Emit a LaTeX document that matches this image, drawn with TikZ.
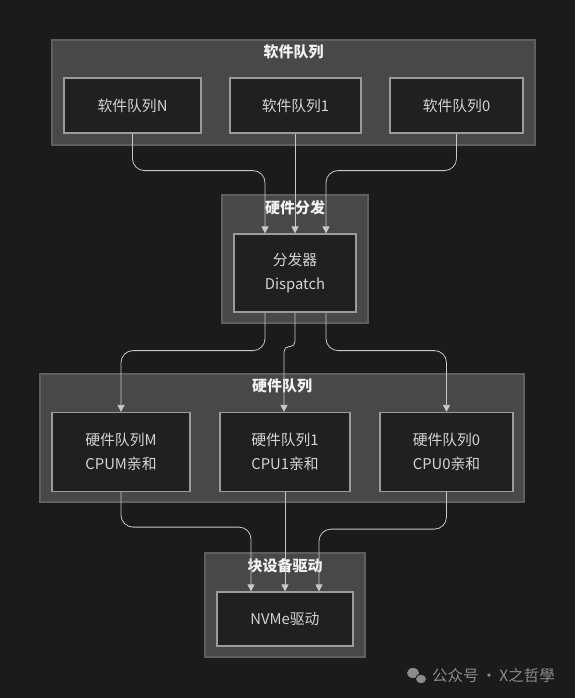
\documentclass[tikz,border=0pt]{standalone}
\usepackage{fontspec}
\setmainfont{Noto Sans CJK SC}
\usepackage{tikz}
\usetikzlibrary{arrows.meta,positioning}
\definecolor{bgc}{HTML}{1B1B1B}
\definecolor{grpfill}{HTML}{474948}
\definecolor{grpline}{HTML}{5E605F}
\definecolor{boxfill}{HTML}{1F2120}
\definecolor{boxline}{HTML}{9A9C9B}
\definecolor{txtc}{HTML}{D4D4D4}
\definecolor{ttlc}{HTML}{F2F2F2}
\definecolor{edgec}{HTML}{C8C8C8}
\definecolor{wmc}{HTML}{8C8C8C}
\tikzset{
  grp/.style={draw=grpline,line width=1.2pt,fill=grpfill,inner sep=0pt},
  qbox/.style={draw=boxline,line width=1.2pt,fill=boxfill,align=center,inner sep=0pt,
    text=txtc,font=\fontsize{14.8}{24}\selectfont},
  ttl/.style={text=ttlc,font=\fontsize{15}{16}\selectfont\bfseries,inner sep=0pt},
  ar/.style={-{Triangle[length=7pt,width=7pt]},edgec,line width=0.8pt,rounded corners=12pt}
}

\begin{document}
\begin{tikzpicture}[x=1pt,y=-1pt]
\fill[bgc] (0,0) rectangle (575,698);
\useasboundingbox (0,0) rectangle (575,698);
% clusters
\node[grp,minimum width=483,minimum height=105] (gsw) at (293.5,92.5) {};
\node[grp,minimum width=146,minimum height=128] (gdp) at (295,259) {};
\node[grp,minimum width=484,minimum height=128] (ghq) at (282,438) {};
\node[grp,minimum width=160,minimum height=104] (gbd) at (285,605) {};
\node[ttl] (tsw) at (293.5,52) {软件队列};
\node[ttl] (tdp) at (295,208) {硬件分发};
\node[ttl] (thq) at (282,386) {硬件队列};
\node[ttl] (tbd) at (285,566) {块设备驱动};
% software queues
\node[qbox,minimum width=137,minimum height=55] (swN) at (132.5,105.5) {软件队列N};
\node[qbox,minimum width=131,minimum height=55] (sw1) at (295.5,105.5) {软件队列1};
\node[qbox,minimum width=133,minimum height=55] (sw0) at (456.5,105.5) {软件队列0};
% dispatcher
\node[qbox,minimum width=122,minimum height=78] (disp) at (295,273) {分发器\\Dispatch};
% hardware queues
\node[qbox,minimum width=138,minimum height=79] (hqM) at (121,452) {硬件队列M\\CPUM亲和};
\node[qbox,minimum width=130,minimum height=79] (hq1) at (285,452) {硬件队列1\\CPU1亲和};
\node[qbox,minimum width=133,minimum height=79] (hq0) at (446.5,452) {硬件队列0\\CPU0亲和};
% driver
\node[qbox,minimum width=136,minimum height=54] (nvme) at (285,619) {NVMe驱动};
% edges
\draw[ar] (swN.south) -- ++(0,37) -| ([xshift=-30]disp.north);
\draw[ar] (sw1.south -| disp.north) -- (disp.north);
\draw[ar] (sw0.south) -- ++(0,37) -| ([xshift=31]disp.north);
\draw[ar] ([xshift=-30]disp.south) -- ++(0,38) -| (hqM.north);
\draw[ar,rounded corners=5pt] (disp.south) -- ++(0,34) -| ([xshift=-1]hq1.north);
\draw[ar] ([xshift=31]disp.south) -- ++(0,38) -| (hq0.north);
\draw[ar] (hqM.south) -- ++(0,35) -| ([xshift=-34]nvme.north);
\draw[ar] (hq1.south) -- (nvme.north);
\draw[ar] (hq0.south) -- ++(0,37) -| ([xshift=34]nvme.north);
% watermark
\fill[wmc] (413,673) ellipse (6pt and 5pt);
\fill[wmc,draw=bgc,line width=0.8pt] (421,679) ellipse (5.5pt and 4.8pt);
\node[text=wmc,font=\fontsize{15.5}{16}\selectfont,anchor=west,inner sep=0pt] (wm) at (432,676) {公众号\,·\,X之哲學};
\end{tikzpicture}
\end{document}
